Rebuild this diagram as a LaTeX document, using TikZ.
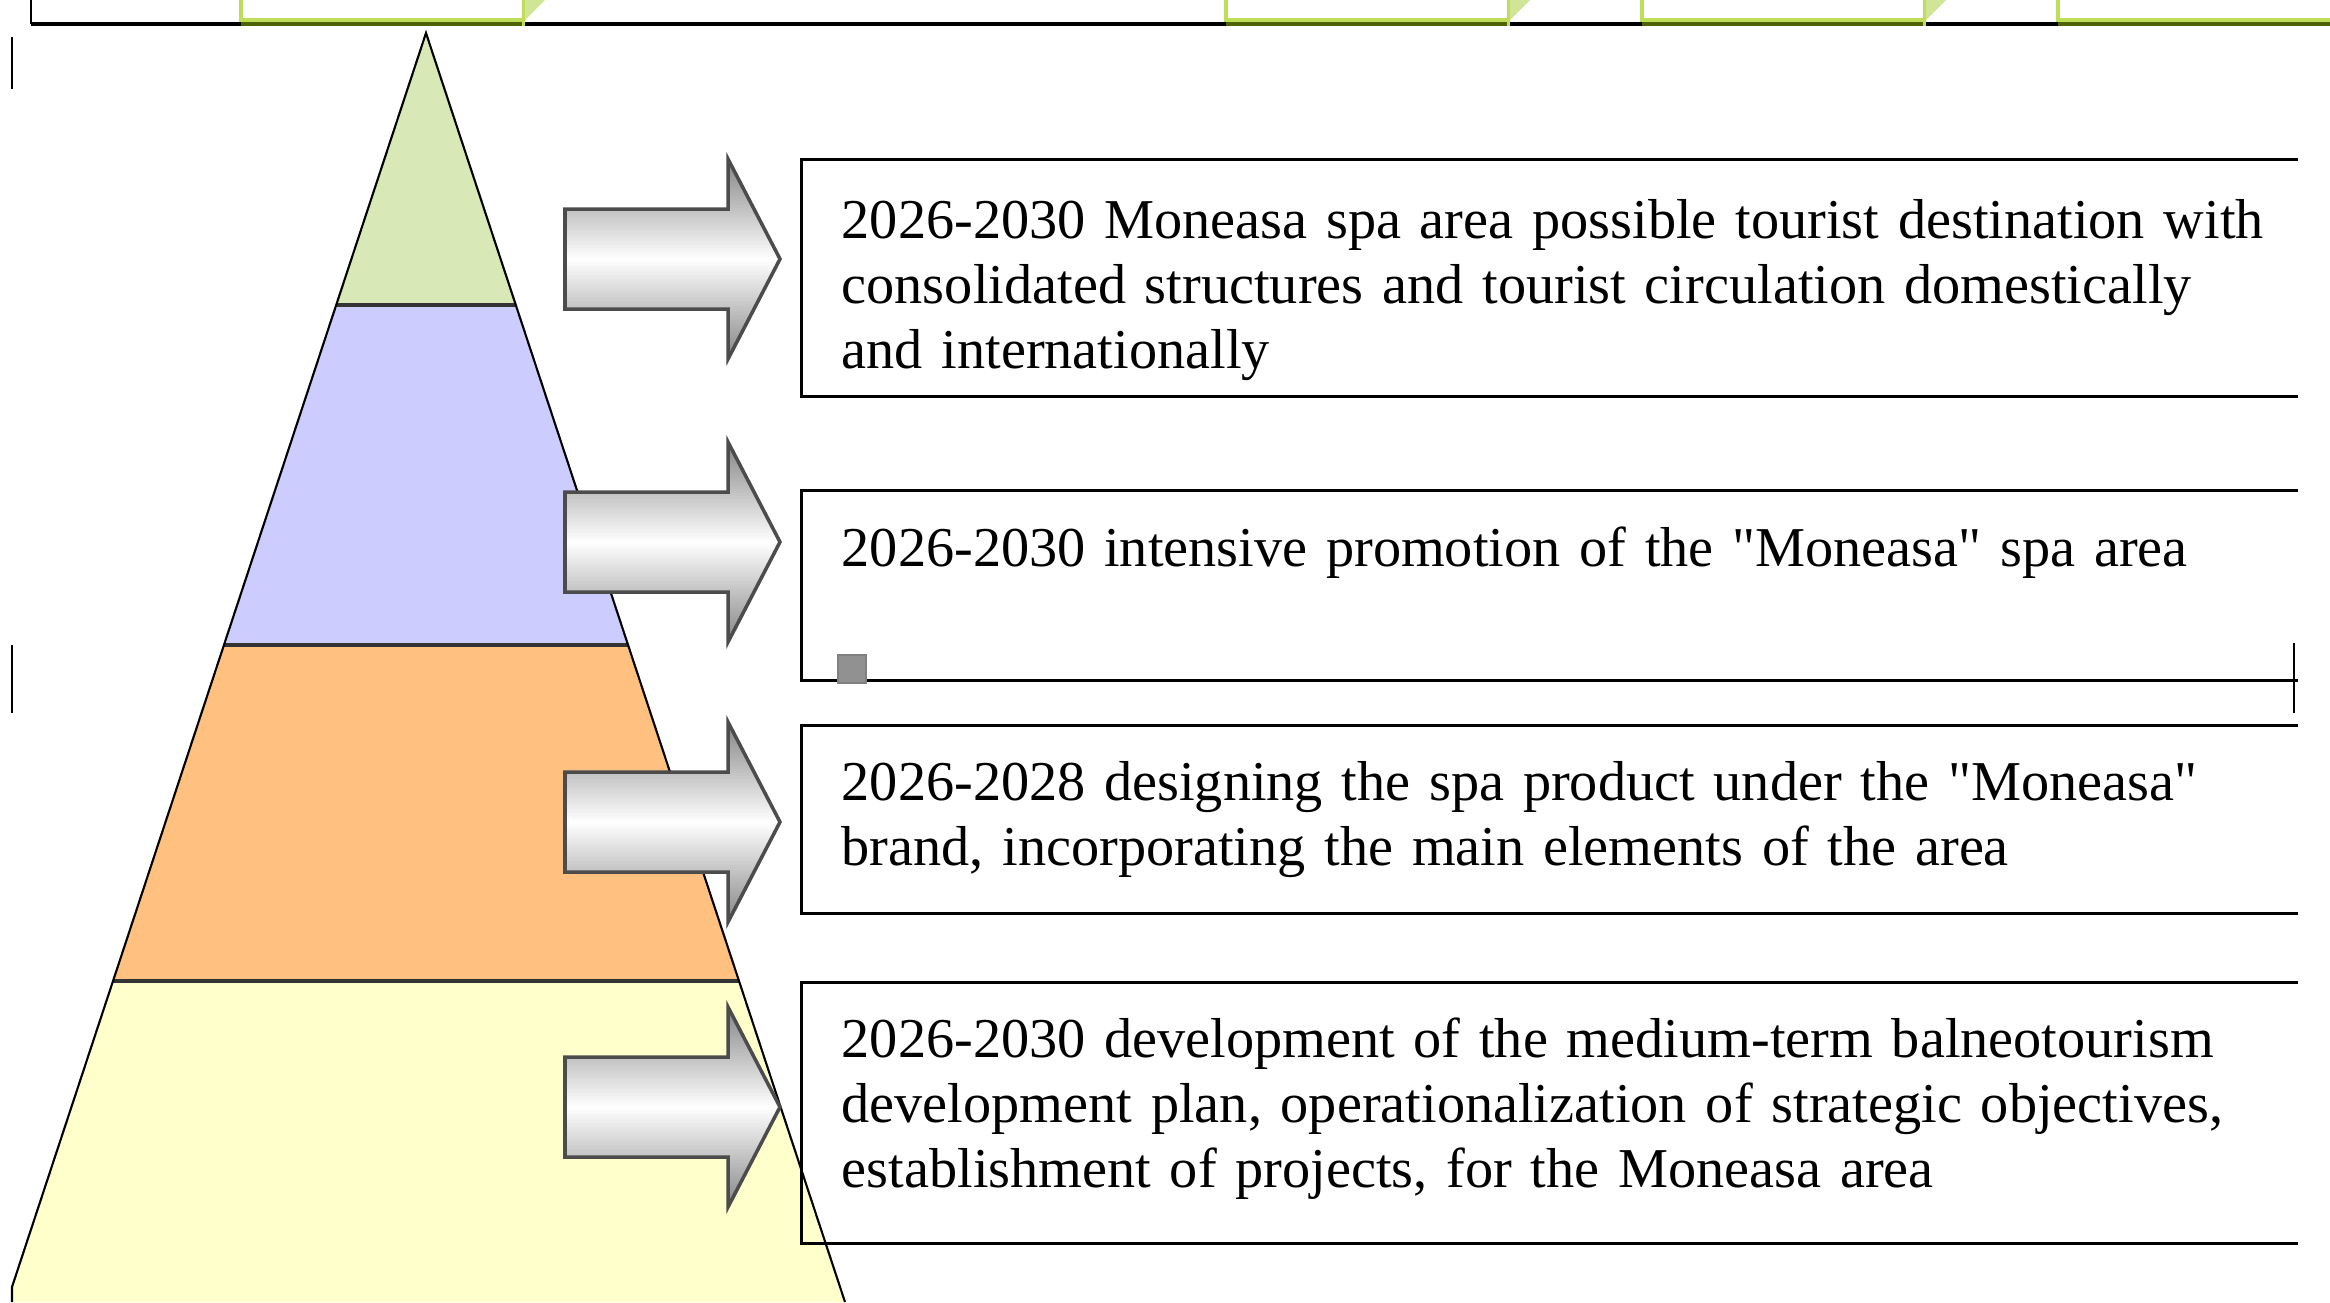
\documentclass[tikz,border=0pt]{standalone}
\usepackage{fontspec}
\setmainfont{Liberation Serif}
\usepackage{xcolor}
\usepackage{tikz}
\usetikzlibrary{positioning, calc}
\definecolor{pyrgreen}{RGB}{216, 232, 182}
\definecolor{pyrblue}{RGB}{204, 204, 255}
\definecolor{pyrorange}{RGB}{255, 192, 128}
\definecolor{pyryellow}{RGB}{255, 255, 204}
\definecolor{stripgreen}{RGB}{190, 222, 90}
\definecolor{stripolive}{RGB}{79, 98, 0}
\definecolor{strippale}{RGB}{208, 230, 150}
\tikzset{
    band/.style={draw=black, line width=0.6pt},
    divider/.style={draw=black!80, line width=1.2pt},
    blockarrow/.style={
        draw=black!70,
        line width=1pt,
        top color=black!48,
        bottom color=black!48,
        middle color=white
    },
    boxframe/.style={
        rectangle,
        minimum width=14.95cm,
        inner sep=0pt,
        anchor=north west
    },
    boxline/.style={draw=black, line width=0.85pt},
    boxtext/.style={
        inner sep=0pt,
        text width=14.6cm,
        align=left,
        font=\fontsize{16}{18.5}\selectfont
    },
    tickmark/.style={draw=black, line width=0.7pt}
}

\begin{document}
\begin{tikzpicture}[x=0.01cm, y=-0.01cm]

    \useasboundingbox (0,0) rectangle (2330,1302);
    \clip (0,0) rectangle (2330,1302);

    % Top strip
    \fill[black] (31,22) rectangle (2330,26);
    \draw[tickmark] (31,0) -- (31,24);
    \foreach \a/\b in {241/523, 1226/1508, 1642/1924, 2058/2380} {
        \fill[stripgreen] (\a-2,0) rectangle (\a+2,22);
        \fill[stripgreen] (\a,18) rectangle (\b,22);
        \fill[stripolive] (\a,22) rectangle (\b,26);
        \fill[strippale] (\b,0) -- (\b+22,0) -- (\b,22) -- cycle;
        \fill[stripgreen] (\b-1.5,0) rectangle (\b+1.5,26);
    }

    % Pyramid
    \coordinate (apex) at (426,33);
    \fill[pyrgreen] (apex) -- (515.8,305) -- (336.2,305) -- cycle;
    \fill[pyrblue] (336.2,305) -- (515.8,305) -- (628.1,645) -- (223.9,645) -- cycle;
    \fill[pyrorange] (223.9,645) -- (628.1,645) -- (739,981) -- (113,981) -- cycle;
    \fill[pyryellow] (113,981) -- (739,981) -- (845,1302) -- (12,1302) -- (12,1287) -- cycle;
    \draw[divider] (336.2,305) -- (515.8,305);
    \draw[divider] (223.9,645) -- (628.1,645);
    \draw[divider] (113,981) -- (739,981);
    \draw[band] (12,1302) -- (12,1287) -- (apex) -- (845,1302);

    % Side marks
    \draw[tickmark] (12,37) -- (12,89);
    \draw[tickmark] (12,645) -- (12,713);

    % Arrows
    \foreach \yc in {259, 542, 822, 1107}
        \path[blockarrow] (565,\yc-50) -- (728,\yc-50) -- (728,\yc-100) -- (780,\yc)
            -- (728,\yc+100) -- (728,\yc+50) -- (565,\yc+50) -- cycle;

    % Boxes
    \node[boxframe, minimum height=2.36cm] (box1) at (801,159) {};
    \node[boxframe, minimum height=1.89cm] (box2) at (801,490) {};
    \node[boxframe, minimum height=1.87cm] (box3) at (801,725) {};
    \node[boxframe, minimum height=2.60cm] (box4) at (801,982) {};
    \foreach \b in {box1, box2, box3, box4}
        \draw[boxline] (\b.north east) -- (\b.north west) -- (\b.south west) -- (\b.south east);

    \draw[tickmark] (2294,643) -- (2294,713);
    \draw[fill=black!43, draw=black!50, line width=0.5pt] (838,655) rectangle (866,683);

    % Texts
    \node[boxtext, below right=0.79cm and 0.40cm of box1.north west, anchor=base west] (text1)
        {2026-2030 Moneasa spa area possible tourist destination with\\
         consolidated structures and tourist circulation domestically\\
         and internationally};
    \node[boxtext, below right=0.76cm and 0.40cm of box2.north west, anchor=base west] (text2)
        {2026-2030 intensive promotion of the \textquotedbl Moneasa\textquotedbl{} spa area};
    \node[boxtext, below right=0.75cm and 0.40cm of box3.north west, anchor=base west] (text3)
        {2026-2028 designing the spa product under the \textquotedbl Moneasa\textquotedbl\\
         brand, incorporating the main elements of the area};
    \node[boxtext, below right=0.75cm and 0.40cm of box4.north west, anchor=base west] (text4)
        {2026-2030 development of the medium-term balneotourism\\
         development plan, operationalization of strategic objectives,\\
         establishment of projects, for the Moneasa area};

\end{tikzpicture}
\end{document}
